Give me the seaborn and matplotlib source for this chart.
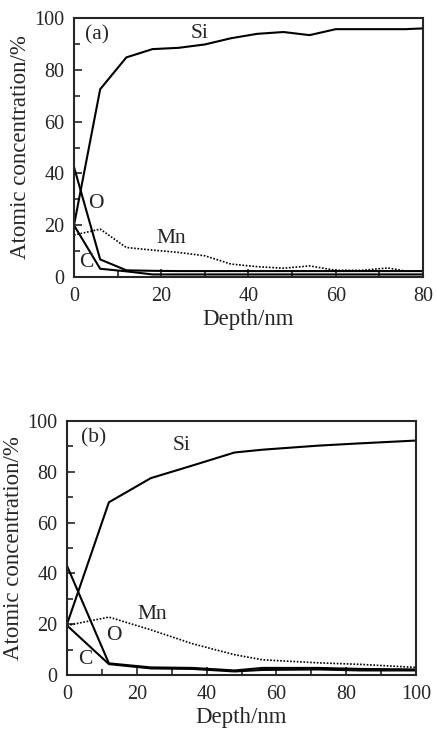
import numpy as np
import pandas as pd
import matplotlib
matplotlib.use("Agg")
import matplotlib.pyplot as plt
from matplotlib.ticker import MultipleLocator
import seaborn as sns

# ---- panel (a) depth profile ----
depth_a = [0, 6, 12, 18, 24, 30, 36, 42, 48, 54, 60, 66, 72, 76, 80]
si_a = [20, 72.5, 84.8, 88, 88.5, 89.8, 92.2, 93.9, 94.6, 93.4, 95.7, 95.7, 95.7, 95.7, 96]
o_a = [42.5, 6.8, 2.6, 2.4, 2.3, 2.3, 2.3, 2.3, 2.3, 2.3, 2.3, 2.3, 2.3, 2.3, 2.3]
c_a = [20, 3.2, 2.2, 1.0, 1.0, 1.0, 1.0, 1.0, 1.0, 1.0, 1.0, 1.0, 1.0, 1.0, 1.0]
mn_a = [16.2, 18.5, 11.4, 10.4, 9.5, 8.2, 5.0, 4.0, 3.4, 4.3, 2.6, 2.6, 3.5, 2.3, np.nan]

# ---- panel (b) depth profile ----
depth_b = [0, 12, 24, 36, 48, 56, 72, 84, 100]
si_b = [20, 68, 77.5, 82.5, 87.6, 88.7, 90.3, 91.2, 92.3]
mn_b = [19.5, 22.8, 17.8, 12.3, 8.0, 6.0, 4.8, 4.2, 3.0]
o_b = [43, 4.6, 3.0, 2.8, 1.8, 2.8, 2.8, 2.4, 2.2]
c_b = [19.5, 4.3, 2.6, 2.4, 1.4, 2.0, 2.2, 1.8, 1.8]

sns.set_style("ticks")
plt.rcParams['font.family'] = ['Liberation Serif', 'DejaVu Serif']
TICK_FS = 14.5
LABEL_FS = 16.5
NOTE_FS = 15.5


def draw_panel(ax, depth, si, o, c, mn, xmax, xmajor):
    df = pd.DataFrame({'depth': depth, 'Si': si, 'O': o, 'C': c, 'Mn': mn})
    for el in ['Si', 'O', 'C']:
        sns.lineplot(data=df, x='depth', y=el, ax=ax, color='black', lw=1.5)
    sns.lineplot(data=df.dropna(), x='depth', y='Mn', ax=ax, color='black',
                 lw=1.2, linestyle=(0, (1, 1)))
    ax.set_xlim(0, xmax)
    ax.set_ylim(0, 100)
    ax.xaxis.set_major_locator(MultipleLocator(xmajor))
    ax.xaxis.set_minor_locator(MultipleLocator(xmajor / 2))
    ax.yaxis.set_major_locator(MultipleLocator(20))
    ax.yaxis.set_minor_locator(MultipleLocator(10))
    ax.tick_params(which='both', direction='in', top=False, right=False,
                   labelsize=TICK_FS, pad=7, width=1.2)
    ax.tick_params(which='major', length=6)
    ax.tick_params(which='minor', length=4)
    for sp in ax.spines.values():
        sp.set_visible(True)
        sp.set_linewidth(1.5)
    ax.set_xlabel('Depth/nm', fontsize=LABEL_FS, labelpad=2)
    ax.set_ylabel('Atomic concentration/%', fontsize=LABEL_FS, labelpad=2)


fig = plt.figure(figsize=(4.36, 7.30), dpi=100)
ax_a = fig.add_axes([0.1697, 0.6205, 0.8005, 0.3548])
ax_b = fig.add_axes([0.1537, 0.0753, 0.8005, 0.3480])

draw_panel(ax_a, depth_a, si_a, o_a, c_a, mn_a, 80, 20)
draw_panel(ax_b, depth_b, si_b, o_b, c_b, mn_b, 100, 20)

# curve labels, panel (a)
ax_a.text(2.6, 93.4, '(a)', fontsize=NOTE_FS, va='center', ha='left')
ax_a.text(28.7, 94.2, 'Si', fontsize=NOTE_FS, va='center', ha='center')
ax_a.text(22.4, 15, 'Mn', fontsize=NOTE_FS, va='center', ha='center')
ax_a.text(5.0, 28.5, 'O', fontsize=NOTE_FS, va='center', ha='center')
ax_a.text(2.8, 5.5, 'C', fontsize=NOTE_FS, va='center', ha='center')

# curve labels, panel (b)
ax_b.text(4.0, 93.3, '(b)', fontsize=NOTE_FS, va='center', ha='left')
ax_b.text(32.9, 90.5, 'Si', fontsize=NOTE_FS, va='center', ha='center')
ax_b.text(24.3, 23.9, 'Mn', fontsize=NOTE_FS, va='center', ha='center')
ax_b.text(13.4, 15.4, 'O', fontsize=NOTE_FS, va='center', ha='center')
ax_b.text(5.3, 6.2, 'C', fontsize=NOTE_FS, va='center', ha='center')

fig.savefig('out.png', dpi=100)
